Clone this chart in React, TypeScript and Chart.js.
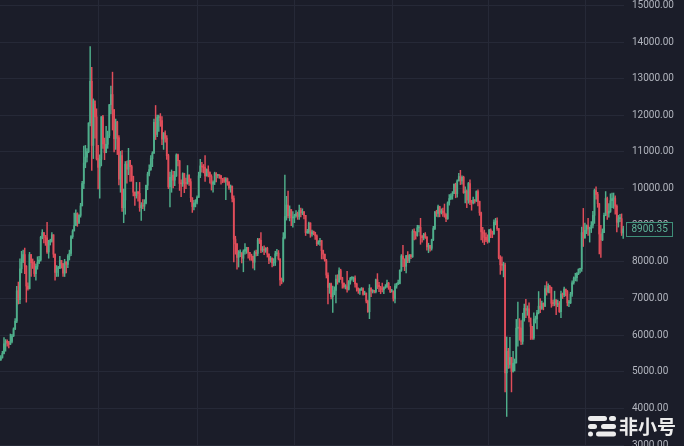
import React, { useEffect, useRef } from "react";
import { Chart, registerables } from "chart.js";

Chart.register(...registerables);

// Daily candles starting 2019-05-01. Each row: [close, high, low]; open = previous close.
const START = { y: 2019, m: 4, d: 1 };
const FIRST_OPEN = 5320;

const may2019 = [
  [5390, 5440, 5310], [5500, 5560, 5370], [5760, 5930, 5490], [5830, 5880, 5560], [5790, 5870, 5700],
  [5750, 5830, 5650], [5830, 6030, 5740], [5980, 6020, 5790], [6170, 6200, 5960], [6380, 6450, 6150],
  [7210, 7330, 6340], [6970, 7450, 6850], [7810, 8080, 6860], [8000, 8290, 7700], [8200, 8320, 7980],
  [7880, 8380, 7680], [7340, 7900, 6900], [7270, 7430, 7230], [8200, 8260, 7260], [7980, 8200, 7600],
  [7960, 8080, 7820], [7680, 8020, 7600], [7880, 7940, 7500], [7990, 8140, 7800], [8050, 8150, 7950],
  [8670, 8700, 8020], [8800, 8880, 8630], [8720, 8800, 8520], [8660, 8720, 8450], [8270, 9080, 8230],
  [8560, 8590, 8100],
];
const jun2019 = [
  [8560, 8620, 8460], [8740, 8800, 8540], [8210, 8740, 8120], [7710, 8210, 7500], [7820, 7900, 7600],
  [7820, 7880, 7600], [8040, 8150, 7820], [7950, 8040, 7830], [7690, 7960, 7600], [8000, 8070, 7600],
  [7930, 8000, 7700], [8150, 8200, 7840], [8230, 8320, 8050], [8690, 8720, 8170], [8840, 8880, 8640],
  [8990, 9330, 8850], [9320, 9420, 8990], [9080, 9340, 8970], [9270, 9290, 9040], [9530, 9600, 9220],
  [10140, 10200, 9530], [10700, 11160, 10000], [10860, 11180, 10570], [11010, 11090, 10730], [11790, 11800, 10980],
  [12930, 13880, 11710], [11180, 13310, 10500], [12400, 12450, 10820], [11960, 12300, 11380], [10820, 12180, 10780],
];
const jul2019 = [
  [10580, 11180, 9990], [10800, 10920, 9740], [11960, 11970, 10620], [11220, 12000, 11100], [10980, 11380, 10790],
  [11210, 11700, 10990], [11450, 11570, 11100], [12290, 12300, 11390], [12570, 12800, 12040], [12160, 13180, 11600],
  [11360, 12150, 11000], [11820, 11900, 11070], [11390, 11840, 10930], [10260, 11450, 10100], [10900, 11020, 9900],
  [9480, 11040, 9380], [9690, 9990, 9070], [10670, 10740, 9300], [10530, 10750, 10150], [10770, 11100, 10380],
  [10600, 10770, 10200], [10340, 10640, 10200], [9900, 10330, 9800], [9810, 9910, 9540], [9910, 10170, 9740],
  [9870, 9920, 9660], [9480, 10170, 9380], [9550, 9620, 9130], [9520, 9700, 9450], [9600, 9700, 9400],
  [10090, 10100, 9580],
];
const aug2019 = [
  [10400, 10450, 9970], [10520, 10650, 10350], [10820, 10900, 10500], [10970, 11010, 10600], [11810, 11900, 10960],
  [11480, 12270, 11340], [11940, 12010, 11420], [11970, 12010, 11560], [11860, 12050, 11700], [11350, 11970, 11200],
  [11520, 11530, 11070], [11380, 11580, 11270], [10900, 11450, 10800], [10050, 10940, 10000], [10310, 10450, 9500],
  [10370, 10510, 9900], [10230, 10470, 10020], [10350, 10470, 10080], [10920, 10950, 10330], [10760, 10940, 10620],
  [10140, 10770, 9950], [10130, 10240, 9780], [10410, 10430, 10060], [10160, 10420, 9890], [10140, 10290, 10000],
  [10370, 10630, 10120], [10190, 10380, 10090], [9750, 10270, 9640], [9510, 9750, 9350], [9600, 9680, 9420],
  [9630, 9700, 9500],
];
const sep2019 = [
  [9760, 9800, 9580], [10350, 10450, 9760], [10620, 10800, 10300], [10590, 10720, 10450], [10580, 10660, 10430],
  [10350, 10900, 10200], [10520, 10540, 10340], [10440, 10620, 10320], [10330, 10460, 10150], [10120, 10380, 9960],
  [10180, 10210, 9900], [10410, 10450, 10110], [10360, 10440, 10180], [10360, 10390, 10290], [10350, 10380, 10280],
  [10280, 10360, 10120], [10240, 10280, 10160], [10200, 10300, 10170], [10270, 10300, 9700], [10180, 10290, 10090],
  [10020, 10190, 9980], [10070, 10100, 9900], [9730, 10070, 9640], [8620, 9800, 8000], [8490, 8700, 8210],
  [8120, 8500, 7800], [8250, 8310, 7860], [8250, 8330, 8140], [8100, 8250, 7970], [8290, 8330, 7730],
];
const oct2019 = [
  [8340, 8500, 8210], [8390, 8400, 8230], [8260, 8400, 8100], [8210, 8260, 8050], [8150, 8200, 8040],
  [7990, 8160, 7830], [8250, 8300, 7780], [8230, 8320, 8160], [8600, 8640, 8170], [8590, 8640, 8500],
  [8320, 8800, 8250], [8340, 8420, 8270], [8320, 8440, 8200], [8370, 8390, 8260], [8210, 8400, 8130],
  [8050, 8220, 7950], [8100, 8150, 7990], [7970, 8110, 7860], [7990, 8090, 7890], [8220, 8290, 7900],
  [8240, 8340, 8160], [8080, 8310, 8050], [7510, 8080, 7360], [7490, 7560, 7400], [8660, 8800, 7450],
  [9240, 10370, 8630], [9550, 9790, 9140], [9260, 9930, 9200], [9430, 9530, 9120], [9200, 9420, 8990],
  [9200, 9370, 8950],
];
const nov2019 = [
  [9260, 9300, 9070], [9320, 9400, 9220], [9240, 9360, 9160], [9410, 9550, 9160], [9340, 9470, 9230],
  [9360, 9450, 9290], [9270, 9380, 9170], [8800, 9270, 8720], [8810, 8890, 8780], [9060, 9090, 8780],
  [8760, 9070, 8670], [8820, 8870, 8700], [8810, 8840, 8740], [8710, 8810, 8610], [8490, 8740, 8440],
  [8550, 8580, 8480], [8580, 8640, 8450], [8310, 8590, 8080], [8210, 8320, 8080], [8030, 8210, 8020],
  [7640, 8070, 7560], [7300, 7700, 6850], [7400, 7420, 7140], [7050, 7420, 6990], [7150, 7340, 6620],
  [7220, 7320, 7100], [7530, 7640, 6880], [7460, 7650, 7390], [7760, 7840, 7440], [7570, 7800, 7520],
];
const dec2019 = [
  [7420, 7580, 7280], [7320, 7420, 7280], [7320, 7380, 7260], [7250, 7740, 7170], [7450, 7490, 7230],
  [7550, 7580, 7390], [7560, 7600, 7500], [7560, 7580, 7460], [7400, 7620, 7310], [7280, 7420, 7200],
  [7220, 7290, 7140], [7240, 7270, 7110], [7270, 7300, 7220], [7120, 7290, 7090], [7150, 7200, 7100],
  [6930, 7150, 6880], [6640, 6960, 6620], [7280, 7380, 6450], [7200, 7300, 7050], [7220, 7240, 7150],
  [7190, 7220, 7150], [7510, 7530, 7150], [7360, 7680, 7270], [7320, 7440, 7190], [7280, 7330, 7130],
  [7240, 7420, 7180], [7290, 7320, 7130], [7320, 7380, 7280], [7420, 7500, 7300], [7290, 7440, 7250],
  [7190, 7330, 7160],
];
const jan2020 = [
  [7200, 7250, 7170], [6990, 7210, 6930], [7340, 7400, 6880], [7410, 7420, 7280], [7410, 7500, 7380],
  [7770, 7780, 7400], [8160, 8200, 7740], [8080, 8450, 7870], [7880, 8080, 7760], [8170, 8180, 7700],
  [8040, 8280, 7980], [8190, 8200, 7980], [8140, 8200, 8090], [8830, 8880, 8120], [8810, 8900, 8600],
  [8720, 8830, 8620], [8930, 9000, 8700], [8940, 9000, 8820], [8710, 9190, 8480], [8660, 8720, 8540],
  [8750, 8780, 8600], [8680, 8800, 8640], [8410, 8690, 8320], [8450, 8510, 8250], [8370, 8450, 8290],
  [8600, 8620, 8320], [8910, 8970, 8580], [9360, 9380, 8880], [9320, 9410, 9240], [9510, 9550, 9230],
  [9350, 9520, 9230],
];
const feb2020 = [
  [9390, 9450, 9310], [9340, 9470, 9240], [9290, 9580, 9220], [9180, 9320, 9100], [9610, 9640, 9160],
  [9730, 9840, 9550], [9800, 9860, 9700], [9870, 9920, 9710], [10120, 10130, 9860], [9860, 10150, 9750],
  [10210, 10240, 9770], [10330, 10420, 10210], [10210, 10500, 10110], [10310, 10350, 10120], [9890, 10340, 9870],
  [9930, 10050, 9610], [9690, 9970, 9480], [10140, 10170, 9600], [9630, 10240, 9560], [9610, 9680, 9410],
  [9690, 9770, 9580], [9660, 9700, 9600], [9920, 9940, 9650], [9650, 9970, 9530], [9340, 9660, 9270],
  [8820, 9360, 8600], [8780, 8940, 8530], [8670, 8870, 8470], [8600, 8790, 8550],
];
const mar2020 = [
  [8560, 8740, 8510], [8870, 8890, 8530], [8790, 8900, 8660], [8760, 8840, 8660], [9080, 9150, 8750],
  [9120, 9190, 9010], [8910, 9200, 8860], [8110, 8910, 8080], [7920, 8170, 7660], [7910, 8140, 7770],
  [7910, 7990, 7590], [4970, 7970, 4450], [5560, 5950, 3780], [5200, 5640, 5090], [5390, 5940, 5100],
  [5010, 5390, 4450], [5230, 5560, 4990], [5240, 5350, 5020], [6190, 6430, 5240], [6200, 6900, 5700],
  [6190, 6450, 5860], [5830, 6400, 5740], [6420, 6600, 5750], [6730, 6850, 6380], [6680, 6980, 6480],
  [6720, 6800, 6540], [6470, 6880, 6360], [6240, 6300, 5880], [5920, 6240, 5880], [6430, 6610, 5880],
  [6440, 6520, 6330],
];
const apr2020 = [
  [6610, 6680, 6170], [6790, 7190, 6580], [6730, 7000, 6610], [6870, 6930, 6700], [6790, 6880, 6690],
  [7270, 7350, 6780], [7180, 7460, 7090], [7330, 7400, 7150], [7300, 7360, 7150], [6870, 7310, 6760],
  [6860, 6960, 6800], [6970, 7200, 6800], [6840, 6920, 6560], [6840, 6960, 6780], [6640, 6920, 6620],
  [7120, 7200, 6480], [7100, 7150, 7000], [7260, 7310, 7050], [7190, 7250, 7070], [6880, 7220, 6800],
  [6880, 6950, 6780], [7120, 7170, 6860], [7430, 7480, 7060], [7550, 7590, 7390], [7570, 7690, 7480],
  [7680, 7710, 7470], [7800, 7810, 7650], [7810, 7820, 7700], [8800, 8950, 7740], [8660, 9460, 8420],
];
const may2020 = [
  [8860, 9060, 8640], [8990, 9010, 8770], [8900, 9190, 8720], [8910, 8950, 8540], [9000, 9100, 8800],
  [9270, 9380, 8930], [9950, 9990, 9050], [9840, 10050, 9710], [9590, 9900, 9490], [8760, 9590, 8220],
  [8600, 9000, 8120], [8800, 8900, 8580], [9270, 9330, 8800], [9730, 9920, 9260], [9330, 9770, 9160],
  [9380, 9590, 9220], [9670, 9860, 9350], [9730, 9880, 9480], [9730, 9880, 9460], [9520, 9800, 9300],
  [9080, 9560, 8820], [9180, 9270, 8950], [9180, 9300, 9100], [8790, 9310, 8720], [8900.35, 8970, 8640],
];

const MONTHS = [may2019, jun2019, jul2019, aug2019, sep2019, oct2019, nov2019, dec2019, jan2020, feb2020, mar2020, apr2020, may2020];

// Vertical grid lines (every two months)
const GRID_DATES = ["2019-07-01", "2019-09-01", "2019-11-01", "2020-01-01", "2020-03-01", "2020-05-01"];

// Price axis
const Y_MIN = 2973;
const Y_MAX = 15150;
const Y_TICKS = [3000, 4000, 5000, 6000, 7000, 8000, 9000, 10000, 11000, 12000, 13000, 14000, 15000];

const BG = "#1b1d29";
const GRID = "#262937";
const UP = "#4fae8b";
const DOWN = "#e04d5a";
const TEXT = "#b2b5be";

const rows = MONTHS.flat();
const closes = rows.map((r) => r[0]);
const highs = rows.map((r) => r[1]);
const lows = rows.map((r) => r[2]);
const opens = closes.map((c, i) => (i === 0 ? FIRST_OPEN : closes[i - 1]));

function buildDates(n: number): string[] {
  const out: string[] = [];
  const t0 = Date.UTC(START.y, START.m, START.d);
  for (let i = 0; i < n; i++) out.push(new Date(t0 + i * 86400000).toISOString().slice(0, 10));
  return out;
}
const dates = buildDates(rows.length);

export default function App() {
  const ref = useRef<HTMLCanvasElement | null>(null);

  useEffect(() => {
    const canvas = ref.current;
    if (!canvas) return;
    const colors = closes.map((c, i) => (c >= opens[i] ? UP : DOWN));

    const decor = {
      id: "decor",
      beforeDraw(chart: any) {
        const { ctx, width, height } = chart;
        ctx.save();
        ctx.fillStyle = BG;
        ctx.fillRect(0, 0, width, height);
        ctx.restore();
      },
      beforeDatasetsDraw(chart: any) {
        const { ctx } = chart;
        const xs = chart.scales.x;
        ctx.save();
        ctx.strokeStyle = GRID;
        ctx.lineWidth = 1;
        GRID_DATES.forEach((d) => {
          const idx = dates.indexOf(d);
          if (idx < 0) return;
          const x = Math.round(xs.getPixelForValue(idx)) + 0.5;
          ctx.beginPath();
          ctx.moveTo(x, 0);
          ctx.lineTo(x, chart.height);
          ctx.stroke();
        });
        ctx.restore();
      },
      afterDraw(chart: any) {
        const { ctx, chartArea } = chart;
        const ys = chart.scales.y;
        const last = closes[closes.length - 1];
        const y = ys.getPixelForValue(last);
        ctx.save();
        // last price label
        const bx = chartArea.right + 1.5;
        const bw = 46;
        const bh = 14;
        ctx.fillStyle = BG;
        ctx.fillRect(bx, y - bh / 2, bw, bh);
        ctx.strokeStyle = "#3f8f79";
        ctx.lineWidth = 1;
        ctx.strokeRect(Math.round(bx) + 0.5, Math.round(y - bh / 2) + 0.5, bw, bh);
        ctx.fillStyle = "#5fb49a";
        ctx.font = "10px Roboto, 'Noto Sans', sans-serif";
        ctx.textBaseline = "middle";
        ctx.textAlign = "left";
        ctx.fillText(last.toFixed(2), bx + 6, y + 1);

        // watermark logo
        ctx.fillStyle = "#ececec";
        const pill = (x: number, yy: number, w: number, h: number) => {
          const r = h / 2;
          ctx.beginPath();
          ctx.moveTo(x + r, yy);
          ctx.lineTo(x + w - r, yy);
          ctx.arc(x + w - r, yy + r, r, -Math.PI / 2, Math.PI / 2);
          ctx.lineTo(x + r, yy + h);
          ctx.arc(x + r, yy + r, r, Math.PI / 2, Math.PI * 1.5);
          ctx.closePath();
          ctx.fill();
        };
        pill(588, 416, 19, 5);
        pill(609, 416, 7, 5);
        pill(588, 424, 9, 5);
        pill(601, 424, 15, 5);
        pill(588, 431.5, 5, 5);
        pill(596, 431.5, 20, 5);
        ctx.font = "bold 19px 'Noto Sans CJK SC', sans-serif";
        ctx.textBaseline = "middle";
        ctx.fillText("非小号", 619, 427);
        ctx.restore();
      },
    };

    const chart = new Chart(canvas, {
      type: "bar",
      data: {
        labels: dates,
        datasets: [
          {
            label: "body",
            data: opens.map((o, i) => [Math.min(o, closes[i]), Math.max(o, closes[i])]) as any,
            backgroundColor: colors,
            barThickness: 1.15,
            minBarLength: 1,
            grouped: false,
            borderWidth: 0,
            order: 1,
          } as any,
          {
            label: "wick",
            data: lows.map((l, i) => [l, highs[i]]) as any,
            backgroundColor: colors,
            barThickness: 0.8,
            grouped: false,
            borderWidth: 0,
            order: 2,
          } as any,
        ],
      },
      options: {
        responsive: false,
        animation: false,
        devicePixelRatio: 1,
        layout: { padding: 0 },
        plugins: { legend: { display: false }, tooltip: { enabled: false } },
        scales: {
          x: { type: "category", display: false, offset: true },
          y: {
            position: "right",
            min: Y_MIN,
            max: Y_MAX,
            border: { display: false },
            grid: { color: GRID, drawTicks: false },
            ticks: {
              padding: 8,
              color: TEXT,
              font: { family: "Roboto, 'Noto Sans', sans-serif", size: 10 },
              callback: (v: any) => Number(v).toFixed(2),
            },
            afterBuildTicks: (scale: any) => {
              scale.ticks = Y_TICKS.map((v) => ({ value: v }));
            },
            afterFit: (scale: any) => {
              scale.width = 60;
              scale.paddingTop = 0;
              scale.paddingBottom = 0;
            },
          } as any,
        },
      },
      plugins: [decor],
    });
    return () => chart.destroy();
  }, []);

  return (
    <div style={{ position: "fixed", left: 0, top: 0, width: 684, height: 446, background: BG, overflow: "hidden" }}>
      <canvas ref={ref} width={684} height={446} style={{ display: "block" }} />
    </div>
  );
}
